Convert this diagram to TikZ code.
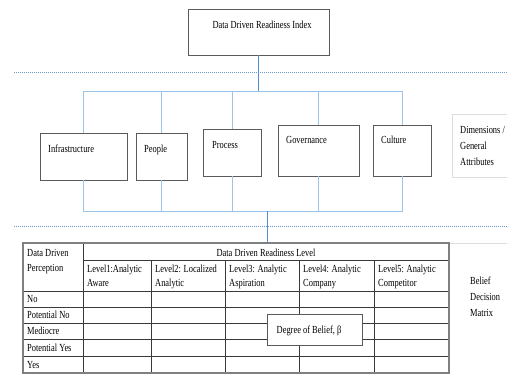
\documentclass[tikz,border=0pt]{standalone}
\usepackage{fontspec}
\setmainfont{Liberation Serif}[FakeStretch=0.78]
\definecolor{boxgray}{HTML}{5A5A5A}
\definecolor{connblue}{HTML}{9DC3E6}
\definecolor{trunkblue}{HTML}{4F8FD0}
\definecolor{dotblue}{HTML}{6A9AD0}
\definecolor{tabout}{HTML}{808080}
\definecolor{tabin}{HTML}{3A3A3A}
\definecolor{faint}{HTML}{DDDDDD}
\begin{document}
\begin{tikzpicture}[x=1pt,y=-1pt,
  box/.style={draw=boxgray, line width=0.9pt, inner sep=0pt},
  txt/.style={inner sep=0pt, font=\fontsize{10.8}{14}\selectfont, anchor=base west, align=left},
  conn/.style={draw=connblue, line width=0.9pt},
  trunk/.style={draw=trunkblue, line width=0.9pt},
  dots/.style={draw=dotblue, line width=0.7pt, dash pattern=on 1pt off 1pt},
  outerline/.style={draw=tabout, line width=1.4pt},
  innerline/.style={draw=tabin, line width=0.6pt}]
\useasboundingbox (0,0) rectangle (507,374);

% top box
\node[box, minimum width=141pt, minimum height=46pt] (index) at (258.5,32) {};
\node[txt, anchor=base] (indexT) at (262,29) {Data Driven Readiness Index};

% separators
\draw[dots] (14,72) -- (507,72);
\draw[dots] (14,226) -- (507,226);

% dimension boxes
\node[box, minimum width=87pt, minimum height=47pt] (infra) at (83.5,156.5) {};
\node[box, minimum width=51pt, minimum height=47pt] (people) at (161.5,156.5) {};
\node[box, minimum width=58pt, minimum height=47pt] (process) at (232,152.5) {};
\node[box, minimum width=81pt, minimum height=51pt] (gov) at (318.5,150.5) {};
\node[box, minimum width=58pt, minimum height=51pt] (culture) at (402,150.5) {};
\node[txt] (infraT) at (48,153) {Infrastructure};
\node[txt] (peopleT) at (144,153) {People};
\node[txt] (processT) at (212,149) {Process};
\node[txt] (govT) at (286,144) {Governance};
\node[txt] (cultureT) at (381,144) {Culture};

\node[draw=faint, line width=0.6pt, minimum width=62pt, minimum height=63pt, inner sep=0pt] (dims) at (483,145.5) {};
\node[txt, font=\fontsize{10.8}{16}\selectfont] (dimsT) at (460,166) {Dimensions /\\General\\Attributes};

% bus coordinates
\coordinate (bustop) at (0,91);
\coordinate (busbot) at (0,211);
\coordinate (trunkbot) at (267,211);
\coordinate (tabentry) at (267,243);

% top connectors
\draw[conn] (infra.north) -- (infra.north |- bustop) -- (culture.north |- bustop) -- (culture.north);
\draw[conn] (people.north) -- (people.north |- bustop);
\draw[conn] (process.north) -- (process.north |- bustop);
\draw[conn] (gov.north) -- (gov.north |- bustop);
\draw[trunk] (index.south) -- (index.south |- bustop);

% bottom connectors
\draw[conn] (infra.south) -- (infra.south |- busbot) -- (culture.south |- busbot) -- (culture.south);
\draw[conn] (people.south) -- (people.south |- busbot);
\draw[conn] (process.south) -- (process.south |- busbot);
\draw[conn] (gov.south) -- (gov.south |- busbot);
\draw[trunk] (trunkbot) -- (tabentry);

% table
\draw[draw=faint, line width=0.6pt] (449,243) -- (507,243);
\foreach \y in {291,307,323,339,356} \draw[innerline] (23,\y) -- (449,\y);
\draw[innerline] (83,260) -- (449,260);
\draw[innerline] (83,243) -- (83,373);
\foreach \x in {151,225,299,374} \draw[innerline] (\x,260) -- (\x,373);
\draw[outerline] (23,243) rectangle (449,373);

\node[txt, font=\fontsize{10.8}{15}\selectfont] (percT) at (27,272) {Data Driven\\Perception};
\node[txt, anchor=base] (levelT) at (266,256.5) {Data Driven Readiness Level};
\node[txt] (l1) at (87,287) {Level1:Analytic\\Aware};
\node[txt] (l2) at (155,287) {Level2: Localized\\Analytic};
\node[txt] (l3) at (229,287) {Level3: Analytic\\Aspiration};
\node[txt] (l4) at (303,287) {Level4: Analytic\\Company};
\node[txt] (l5) at (378,287) {Level5: Analytic\\Competitor};
\node[txt] (r1) at (27,303) {No};
\node[txt] (r2) at (27,319) {Potential No};
\node[txt] (r3) at (27,335) {Mediocre};
\node[txt] (r4) at (27,351.5) {Potential Yes};
\node[txt] (r5) at (27,368.5) {Yes};

\node[box, fill=white, minimum width=95pt, minimum height=31pt] (belief) at (314.5,329.5) {};
\node[txt, anchor=base] (beliefT) at (309,333.5) {Degree of Belief, β};

\node[txt, font=\fontsize{10.8}{16}\selectfont] (bdmT) at (470,317) {Belief\\Decision\\Matrix};
\end{tikzpicture}
\end{document}
